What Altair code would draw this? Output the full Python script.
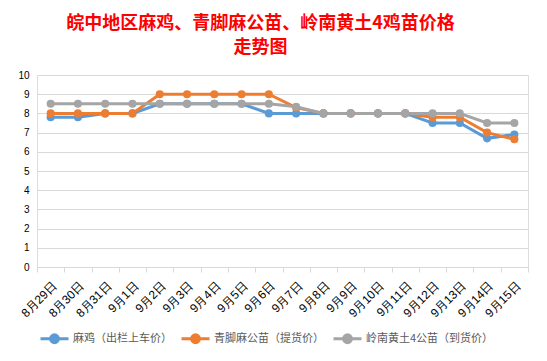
import altair as alt
import pandas as pd

dates = ["8月29日", "8月30日", "8月31日", "9月1日", "9月2日", "9月3日", "9月4日", "9月5日",
         "9月6日", "9月7日", "9月8日", "9月9日", "9月10日", "9月11日", "9月12日", "9月13日",
         "9月14日", "9月15日"]
series_names = ["麻鸡（出栏上车价）", "青脚麻公苗（提货价）", "岭南黄土4公苗（到货价）"]
maji = [7.8, 7.8, 8.0, 8.0, 8.5, 8.5, 8.5, 8.5, 8.0, 8.0, 8.0, 8.0, 8.0, 8.0, 7.5, 7.5, 6.7, 6.9]
qingjiao = [8.0, 8.0, 8.0, 8.0, 9.0, 9.0, 9.0, 9.0, 9.0, 8.3, 8.0, 8.0, 8.0, 8.0, 7.8, 7.8, 7.0, 6.65]
lingnan = [8.5, 8.5, 8.5, 8.5, 8.5, 8.5, 8.5, 8.5, 8.5, 8.35, 8.0, 8.0, 8.0, 8.0, 8.0, 8.0, 7.5, 7.5]
colors = ["#5B9BD5", "#ED7D31", "#A5A5A5"]

rows = []
for i, (name, vals) in enumerate(zip(series_names, [maji, qingjiao, lingnan])):
    for d, v in zip(dates, vals):
        rows.append({"date": d, "series": name, "value": v, "ord": i})
df = pd.DataFrame(rows)

FONT = "Noto Sans CJK SC"

chart = alt.Chart(df).mark_line(
    strokeWidth=3,
    point=alt.OverlayMarkDef(filled=True, size=65, opacity=1),
).encode(
    x=alt.X("date:N", sort=dates, bandPosition=0.5,
            scale=alt.Scale(type="band", paddingInner=0, paddingOuter=0),
            axis=alt.Axis(title=None, labelAngle=-45, tickBand="extent", tickSize=5,
                          labelPadding=8, labelFontSize=12, grid=False,
                          domainColor="#D9D9D9", tickColor="#D9D9D9")),
    y=alt.Y("value:Q", scale=alt.Scale(domain=[0, 10], nice=False),
            axis=alt.Axis(title=None, values=list(range(0, 11)), domain=False, ticks=False,
                          labelPadding=8, gridColor="#D9D9D9", gridWidth=1)),
    color=alt.Color("series:N", sort=series_names,
                    scale=alt.Scale(domain=series_names, range=colors),
                    legend=alt.Legend(title=None, orient="none", direction="horizontal",
                                      legendX=2, legendY=248,
                                      symbolType="M-1,0L1,0M-0.28,0a0.28,0.28 0 1,0 0.56,0a0.28,0.28 0 1,0 -0.56,0",
                                      symbolSize=784, symbolStrokeWidth=3,
                                      labelFontSize=11, labelColor="#595959", labelFont=FONT,
                                      columnPadding=3, labelOffset=3, labelLimit=200)),
    order=alt.Order("ord:Q"),
).properties(
    width=491,
    height=192,
    autosize=alt.AutoSizeParams(type="none"),
    padding={"left": 29, "top": 67, "right": 11, "bottom": 86},
    title=alt.TitleParams(
        text=["皖中地区麻鸡、青脚麻公苗、岭南黄土4鸡苗价格", "走势图"],
        color="#FF0000", fontSize=18, fontWeight="bold", font=FONT,
        lineHeight=24, anchor="middle", dx=-22, offset=13,
    ),
).configure_axis(
    labelFont=FONT, labelFontSize=11, labelColor="#595959",
).configure_view(
    stroke=None,
).configure(background="white")

chart.save("out.html", embed_options={"renderer": "svg", "actions": False})
